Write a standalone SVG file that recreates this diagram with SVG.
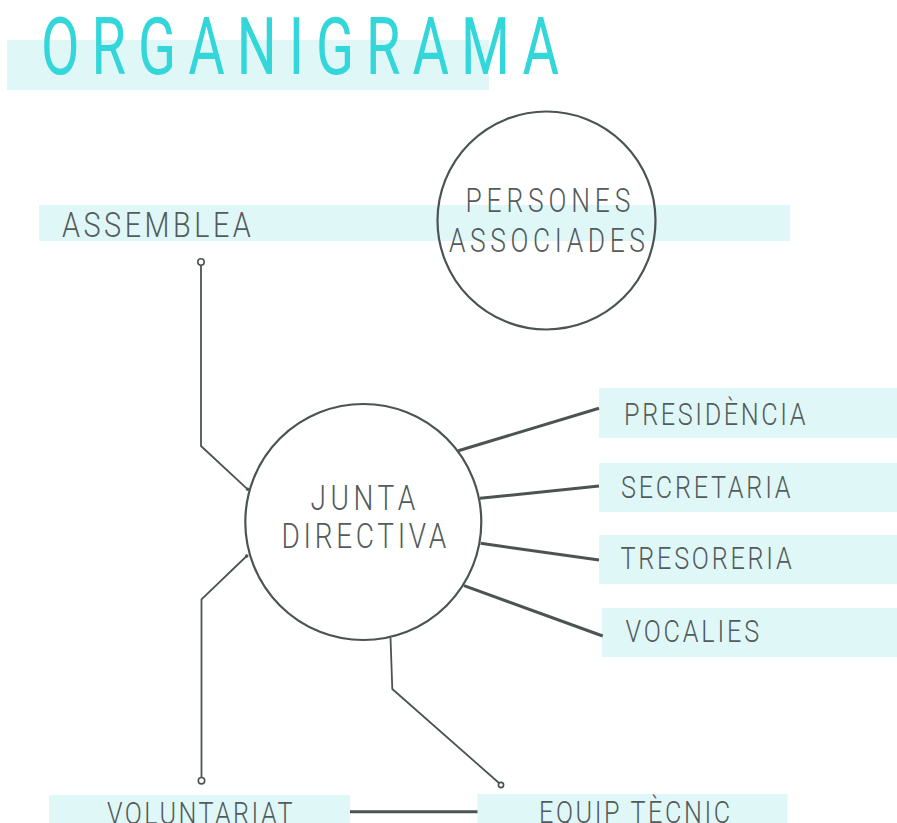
<svg xmlns="http://www.w3.org/2000/svg" width="897" height="823" viewBox="0 0 897 823">
<style>
.band{fill:#e0f7f8}
.t{font-family:Roboto,"Liberation Sans",sans-serif;font-weight:300;fill:#535b5b}
.title{font-family:Roboto,"Liberation Sans",sans-serif;font-weight:400;fill:#33d6d9}
.ring{fill:none;stroke:#4c5353;stroke-width:2.2}
.thin{fill:none;stroke:#4c5353;stroke-width:1.8}
.thick{fill:none;stroke:#4c5353;stroke-width:3}
.dot{fill:#fff;stroke:#4c5353;stroke-width:1.6}
</style>
<rect width="897" height="823" fill="#fff"/>
<g id="title">
<rect class="band" x="7" y="40" width="482" height="50"/>
<text class="title" font-size="80" transform="translate(41,73.5) scale(0.7,1)" textLength="740" lengthAdjust="spacing">ORGANIGRAMA</text>
</g>
<g id="assemblea">
<rect class="band" x="39" y="205" width="751" height="36"/>
<text class="t" font-size="36" transform="translate(62,236.5) scale(0.8,1)" textLength="236" lengthAdjust="spacing">ASSEMBLEA</text>
</g>
<g id="presidencia">
<rect class="band" x="599" y="388" width="298" height="50"/>
<text class="t" font-size="31.5" transform="translate(624,425) scale(0.8,1)" textLength="227" lengthAdjust="spacing">PRESIDÈNCIA</text>
</g>
<g id="secretaria">
<rect class="band" x="599" y="463" width="298" height="49"/>
<text class="t" font-size="31.5" transform="translate(621,498) scale(0.8,1)" textLength="212" lengthAdjust="spacing">SECRETARIA</text>
</g>
<g id="tresoreria">
<rect class="band" x="599" y="535" width="298" height="49"/>
<text class="t" font-size="31.5" transform="translate(620.5,569) scale(0.8,1)" textLength="214" lengthAdjust="spacing">TRESORERIA</text>
</g>
<g id="vocalies">
<rect class="band" x="602" y="608" width="295" height="49"/>
<text class="t" font-size="31.5" transform="translate(625.5,641.7) scale(0.8,1)" textLength="167" lengthAdjust="spacing">VOCALIES</text>
</g>
<g id="voluntariat">
<rect class="band" x="49" y="795" width="301" height="28"/>
<text class="t" font-size="31.5" transform="translate(107,824) scale(0.8,1)" textLength="232" lengthAdjust="spacing">VOLUNTARIAT</text>
</g>
<g id="equip-tecnic">
<rect class="band" x="477.5" y="794" width="310" height="29"/>
<text class="t" font-size="31.5" transform="translate(539,823) scale(0.8,1)" textLength="239" lengthAdjust="spacing">EQUIP TÈCNIC</text>
</g>
<g id="connectors">
<path class="thin" d="M201,265.3 V446 L247.7,489.3"/>
<circle class="dot" cx="201" cy="262" r="3.2"/>
<circle cx="247.7" cy="489.3" r="1.8" fill="#4c5353"/>
<path class="thin" d="M246.7,556 L201.5,599.3 V777.5"/>
<circle class="dot" cx="201.5" cy="780.7" r="3.2"/>
<circle cx="246.7" cy="556" r="1.8" fill="#4c5353"/>
<path class="thin" d="M390.5,637.5 L392.3,689 L499,783"/>
<circle class="dot" cx="501" cy="785" r="2.6"/>
<line class="thick" x1="458.3" y1="450.7" x2="599" y2="408.3"/>
<line class="thick" x1="480" y1="498.3" x2="599" y2="486"/>
<line class="thick" x1="480.7" y1="543.3" x2="599" y2="560"/>
<line class="thick" x1="464" y1="585.7" x2="602.7" y2="636"/>
<line class="thick" x1="350" y1="811.7" x2="477.5" y2="811.7"/>
</g>
<g id="persones-associades">
<circle class="ring" cx="546.5" cy="220.5" r="109"/>
<text class="t" font-size="33" transform="translate(465.5,211.7) scale(0.8,1)" textLength="206" lengthAdjust="spacing">PERSONES</text>
<text class="t" font-size="33" transform="translate(449,251.7) scale(0.8,1)" textLength="245" lengthAdjust="spacing">ASSOCIADES</text>
</g>
<g id="junta-directiva">
<circle class="ring" cx="363.3" cy="522" r="118"/>
<text class="t" font-size="35" transform="translate(310.5,510) scale(0.8,1)" textLength="131" lengthAdjust="spacing">JUNTA</text>
<text class="t" font-size="35" transform="translate(281.5,548.3) scale(0.8,1)" textLength="206" lengthAdjust="spacing">DIRECTIVA</text>
</g>
</svg>
